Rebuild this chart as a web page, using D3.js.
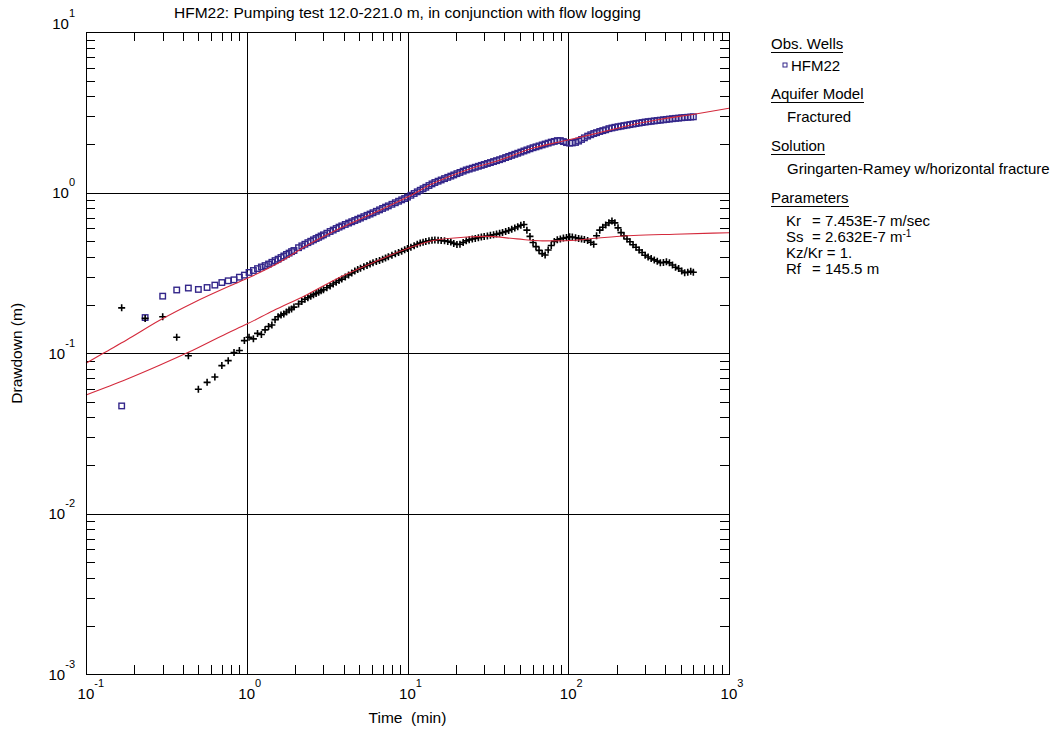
<!DOCTYPE html>
<html>
<head>
<meta charset="utf-8">
<script src="https://cdn.jsdelivr.net/npm/d3@7"></script>
<style>
  html, body { margin: 0; padding: 0; background: #fff; }
  svg { display: block; font-family: "Liberation Sans", Arial, sans-serif; }
</style>
</head>
<body>
<svg id="chart" width="1061" height="733"></svg>
<script>
// Observation times (min) shared by the drawdown and derivative records
const time = [
  0.1667, 0.2333, 0.3, 0.3667, 0.4333, 0.5, 0.5667, 0.6333, 0.7, 0.7667,
  0.8333, 0.9, 0.9667, 1.0333, 1.1, 1.1667, 1.2333, 1.3, 1.3667, 1.4333,
  1.5, 1.5667, 1.6333, 1.7, 1.7667, 1.8333, 1.9, 1.9667, 2.1, 2.2,
  2.3, 2.4, 2.5, 2.6, 2.7, 2.8, 2.9, 3.0, 3.15, 3.3,
  3.45, 3.6, 3.75, 3.9, 4.1, 4.3, 4.5, 4.7, 4.9, 5.1,
  5.35, 5.6, 5.85, 6.1, 6.4, 6.7, 7.0, 7.3, 7.6, 8.0,
  8.4, 8.8, 9.2, 9.6, 10, 10.5, 11, 11.5, 12, 12.5,
  13, 13.6, 14.2, 14.8, 15.5, 16.2, 17, 17.8, 18.6, 19.4,
  20.3, 21.2, 22.2, 23.2, 24.2, 25.3, 26.4, 27.6, 28.8, 30,
  31.4, 32.8, 34.3, 35.8, 37.4, 39, 40.8, 42.6, 44.5, 46.5,
  48.5, 50.7, 53, 55.3, 57.8, 60.4, 63, 65.8, 68.8, 71.8,
  75, 78.4, 81.9, 85.5, 89.3, 93.3, 97.5, 102, 106, 111,
  116, 121, 126, 132, 138, 144, 150, 157, 164, 171,
  179, 187, 195, 204, 213, 222, 232, 242, 253, 264,
  276, 288, 301, 314, 328, 343, 358, 374, 391, 408,
  426, 445, 465, 486, 508, 530, 554, 578, 600
];

// Measured drawdown in HFM22 (m)
const drawdown = [
  0.047, 0.167, 0.227, 0.248, 0.255, 0.250, 0.257, 0.266, 0.276, 0.283,
  0.287, 0.298, 0.307, 0.319, 0.328, 0.337, 0.345, 0.352, 0.360, 0.369,
  0.378, 0.386, 0.395, 0.404, 0.413, 0.421, 0.430, 0.437, 0.455, 0.467,
  0.478, 0.489, 0.499, 0.509, 0.519, 0.528, 0.538, 0.547, 0.560, 0.574,
  0.586, 0.599, 0.611, 0.622, 0.635, 0.648, 0.660, 0.672, 0.684, 0.696,
  0.710, 0.724, 0.737, 0.751, 0.767, 0.783, 0.799, 0.814, 0.829, 0.848,
  0.867, 0.886, 0.904, 0.921, 0.940, 0.965, 0.990, 1.014, 1.037, 1.060,
  1.083, 1.110, 1.136, 1.159, 1.181, 1.202, 1.226, 1.248, 1.270, 1.292,
  1.316, 1.339, 1.364, 1.388, 1.405, 1.424, 1.443, 1.463, 1.482, 1.501,
  1.523, 1.543, 1.565, 1.586, 1.608, 1.631, 1.658, 1.684, 1.711, 1.738,
  1.764, 1.793, 1.822, 1.850, 1.880, 1.909, 1.933, 1.959, 1.987, 2.013,
  2.040, 2.069, 2.090, 2.115, 2.115, 2.085, 2.055, 2.040, 2.045, 2.060,
  2.100, 2.150, 2.200, 2.255, 2.300, 2.340, 2.370, 2.410, 2.440, 2.470,
  2.510, 2.535, 2.560, 2.580, 2.600, 2.620, 2.640, 2.660, 2.680, 2.700,
  2.720, 2.740, 2.760, 2.775, 2.790, 2.805, 2.820, 2.835, 2.850, 2.865,
  2.880, 2.895, 2.910, 2.920, 2.935, 2.945, 2.955, 2.965, 2.975
];

// Drawdown derivative (m)
const derivative = [
  0.192, 0.165, 0.169, 0.126, 0.0966, 0.0597, 0.0659, 0.0711, 0.0838, 0.090,
  0.101, 0.104, 0.120, 0.126, 0.123, 0.133, 0.131, 0.140, 0.147, 0.150,
  0.162, 0.169, 0.173, 0.176, 0.181, 0.186, 0.189, 0.194, 0.203, 0.210,
  0.217, 0.222, 0.227, 0.232, 0.236, 0.240, 0.245, 0.249, 0.256, 0.263,
  0.270, 0.277, 0.284, 0.290, 0.299, 0.308, 0.317, 0.326, 0.333, 0.339,
  0.346, 0.353, 0.360, 0.367, 0.373, 0.379, 0.385, 0.393, 0.400, 0.408,
  0.417, 0.425, 0.433, 0.441, 0.449, 0.458, 0.468, 0.478, 0.486, 0.492,
  0.497, 0.502, 0.506, 0.508, 0.507, 0.505, 0.502, 0.498, 0.493, 0.484,
  0.476, 0.478, 0.490, 0.502, 0.509, 0.515, 0.520, 0.525, 0.530, 0.534,
  0.538, 0.543, 0.548, 0.553, 0.559, 0.566, 0.573, 0.582, 0.593, 0.604,
  0.615, 0.628, 0.635, 0.585, 0.535, 0.490, 0.462, 0.438, 0.418, 0.410,
  0.440, 0.470, 0.498, 0.510, 0.516, 0.522, 0.527, 0.532, 0.530, 0.525,
  0.520, 0.516, 0.512, 0.505, 0.492, 0.478, 0.540, 0.585, 0.610, 0.630,
  0.650, 0.668, 0.650, 0.605, 0.565, 0.540, 0.515, 0.495, 0.475, 0.458,
  0.440, 0.425, 0.408, 0.398, 0.390, 0.382, 0.375, 0.367, 0.368, 0.372,
  0.366, 0.355, 0.344, 0.337, 0.326, 0.318, 0.320, 0.324, 0.320
];

// Gringarten-Ramey type curve and its derivative
const modelTime = [0.1, 0.128, 0.179, 0.289, 0.466, 0.751, 1.0, 1.5, 2.35, 3.8, 6.1,
  10, 14.5, 23.4, 37.6, 60.6, 89, 143, 231, 376, 620, 1000];
const modelDrawdown = [0.0867, 0.100, 0.121, 0.161, 0.2065, 0.2576, 0.292, 0.356, 0.468, 0.601, 0.745,
  0.94, 1.146, 1.387, 1.60, 1.90, 2.08, 2.32, 2.61, 2.87, 3.10, 3.36];
const modelDerivTime = [0.1, 0.179, 0.289, 0.43, 0.751, 1.0, 1.46, 2.35, 3.8, 6.1, 9.9,
  14.5, 23.4, 31, 48, 69, 97.5, 160, 255, 460, 1000];
const modelDerivative = [0.055, 0.0689, 0.0845, 0.101, 0.133, 0.152, 0.184, 0.231, 0.298, 0.367, 0.448,
  0.505, 0.530, 0.535, 0.516, 0.502, 0.503, 0.525, 0.542, 0.552, 0.564];

// Axis decades and their exponent labels
const xDecades = [0.1, 1, 10, 100, 1000];
const xExponents = ["-1", "0", "1", "2", "3"];
const yDecades = [0.001, 0.01, 0.1, 1, 10];
const yExponents = ["-3", "-2", "-1", "0", "1"];
const minorFactors = [2, 3, 4, 5, 6, 7, 8, 9];

const titleText = "HFM22: Pumping test 12.0-221.0 m, in conjunction with flow logging";
const xTitle = "Time  (min)";
const yTitle = "Drawdown (m)";

// Legend content
const legendWell = "HFM22";
const aquiferModel = "Fractured";
const solutionName = "Gringarten-Ramey w/horizontal fracture";
const paramNames = ["Kr", "Ss", "Kz/Kr", "Rf"];
const paramValues = ["= 7.453E-7 m/sec", "= 2.632E-7 m", "= 1.", "= 145.5 m"];

const BLUE = "#33268a";
const RED = "#d42a3c";

const svg = d3.select("#chart");
const plotLeft = 86, plotRight = 729, plotTop = 32.3, plotBottom = 674.3;
const plotH = plotBottom - plotTop;

const x = d3.scaleLog().domain([0.1, 1000]).range([plotLeft, plotRight]);
const y = d3.scaleLog().domain([0.001, 10]).range([plotBottom, plotTop]);

const minorTicks = decades => decades.slice(0, -1)
  .flatMap(d => minorFactors.map(f => d * f));
const xMinor = minorTicks(xDecades);
const yMinor = minorTicks(yDecades);

// Grid lines at each decade
svg.append("g")
  .attr("transform", `translate(0,${plotBottom})`)
  .call(d3.axisBottom(x).tickValues(xDecades.slice(1, -1)).tickSize(-plotH).tickFormat(""))
  .call(g => g.select(".domain").remove());
svg.append("g")
  .attr("transform", `translate(${plotLeft},0)`)
  .call(d3.axisLeft(y).tickValues(yDecades.slice(1, -1)).tickSize(-(plotRight - plotLeft)).tickFormat(""))
  .call(g => g.select(".domain").remove());

// Minor ticks on all four sides, pointing inward
const tickLen = 9;
[
  [d3.axisBottom(x).tickValues(xMinor), `translate(0,${plotBottom})`],
  [d3.axisTop(x).tickValues(xMinor), `translate(0,${plotTop})`],
  [d3.axisLeft(y).tickValues(yMinor), `translate(${plotLeft},0)`],
  [d3.axisRight(y).tickValues(yMinor), `translate(${plotRight},0)`]
].forEach(([axis, tr]) => {
  svg.append("g").attr("transform", tr)
    .call(axis.tickSize(-tickLen).tickFormat(""))
    .call(g => g.select(".domain").remove());
});
svg.selectAll(".tick line").attr("stroke", "#000").attr("stroke-width", 1)
  .attr("shape-rendering", "crispEdges");

// Measured drawdown: hollow squares
const sq = 5.5;
svg.append("g")
  .selectAll("rect")
  .data(time.map((t, i) => [t, drawdown[i]]))
  .join("rect")
  .attr("x", d => x(d[0]) - sq / 2)
  .attr("y", d => y(d[1]) - sq / 2)
  .attr("width", sq).attr("height", sq)
  .attr("fill", "none").attr("stroke", BLUE).attr("stroke-width", 1.4);

// Derivative: crosses
const cr = 3.5;
svg.append("g")
  .selectAll("path")
  .data(time.map((t, i) => [t, derivative[i]]))
  .join("path")
  .attr("d", d => {
    const px = x(d[0]), py = y(d[1]);
    return `M${px - cr},${py}H${px + cr}M${px},${py - cr}V${py + cr}`;
  })
  .attr("stroke", "#000").attr("stroke-width", 1.6).attr("fill", "none");

// Model curves
const line = d3.line().x(d => x(d[0])).y(d => y(d[1])).curve(d3.curveMonotoneX);
svg.append("path")
  .attr("d", line(modelTime.map((t, i) => [t, modelDrawdown[i]])))
  .attr("fill", "none").attr("stroke", RED).attr("stroke-width", 1.1);
svg.append("path")
  .attr("d", line(modelDerivTime.map((t, i) => [t, modelDerivative[i]])))
  .attr("fill", "none").attr("stroke", RED).attr("stroke-width", 1.1);

// Frame
svg.append("rect")
  .attr("x", plotLeft).attr("y", plotTop)
  .attr("width", plotRight - plotLeft).attr("height", plotH)
  .attr("fill", "none").attr("stroke", "#000").attr("stroke-width", 1)
  .attr("shape-rendering", "crispEdges");

// Decade labels: "10" with a raised exponent
const labelFont = 15, supFont = 11;
xDecades.forEach((d, i) => {
  const t = svg.append("text")
    .attr("x", x(d) - 8.4).attr("y", 699)
    .attr("font-size", labelFont).attr("fill", "#000");
  t.append("tspan").text("10");
  t.append("tspan").attr("font-size", supFont).attr("dy", -12).text(xExponents[i]);
});
yDecades.forEach((d, i) => {
  const base = i === yDecades.length - 1 ? y(d) - 3 : y(d) + 5.6;
  const t = svg.append("text")
    .attr("x", 75).attr("y", base)
    .attr("text-anchor", "end")
    .attr("font-size", labelFont).attr("fill", "#000");
  t.append("tspan").text("10");
  t.append("tspan").attr("font-size", supFont).attr("dy", -12).text(yExponents[i]);
});

// Titles
svg.append("text")
  .attr("x", (plotLeft + plotRight) / 2).attr("y", 18)
  .attr("text-anchor", "middle").attr("font-size", 15.5)
  .text(titleText);
svg.append("text")
  .attr("x", (plotLeft + plotRight) / 2).attr("y", 723)
  .attr("text-anchor", "middle").attr("font-size", 15.5)
  .attr("xml:space", "preserve").style("white-space", "pre")
  .text(xTitle);
svg.append("text")
  .attr("transform", `translate(22,${(plotTop + plotBottom) / 2}) rotate(-90)`)
  .attr("text-anchor", "middle").attr("font-size", 15.5)
  .text(yTitle);

// Legend panel
const lg = svg.append("g").attr("font-size", 15);
function heading(text, yb) {
  const t = lg.append("text").attr("x", 771).attr("y", yb).text(text);
  const w = t.node().getComputedTextLength();
  lg.append("line")
    .attr("x1", 771).attr("x2", 771 + w)
    .attr("y1", yb + 3.5).attr("y2", yb + 3.5)
    .attr("stroke", "#000").attr("stroke-width", 1)
    .attr("shape-rendering", "crispEdges");
}
heading("Obs. Wells", 49);
lg.append("rect").attr("x", 783).attr("y", 63).attr("width", 4).attr("height", 4)
  .attr("fill", "none").attr("stroke", BLUE).attr("stroke-width", 1);
lg.append("text").attr("x", 791).attr("y", 71).text(legendWell);
heading("Aquifer Model", 99);
lg.append("text").attr("x", 787).attr("y", 122).text(aquiferModel);
heading("Solution", 151);
lg.append("text").attr("x", 787).attr("y", 174).text(solutionName);
heading("Parameters", 203);
paramNames.forEach((name, i) => {
  const yb = 226 + i * 16;
  if (name === "Kz/Kr") {
    lg.append("text").attr("x", 786).attr("y", yb).text(name + " " + paramValues[i]);
  } else {
    lg.append("text").attr("x", 786).attr("y", yb).text(name);
    const v = lg.append("text").attr("x", 812).attr("y", yb).text(paramValues[i]);
    if (name === "Ss") {
      v.append("tspan").attr("font-size", 10).attr("dy", -5).text("-1");
    }
  }
});
</script>
</body>
</html>
